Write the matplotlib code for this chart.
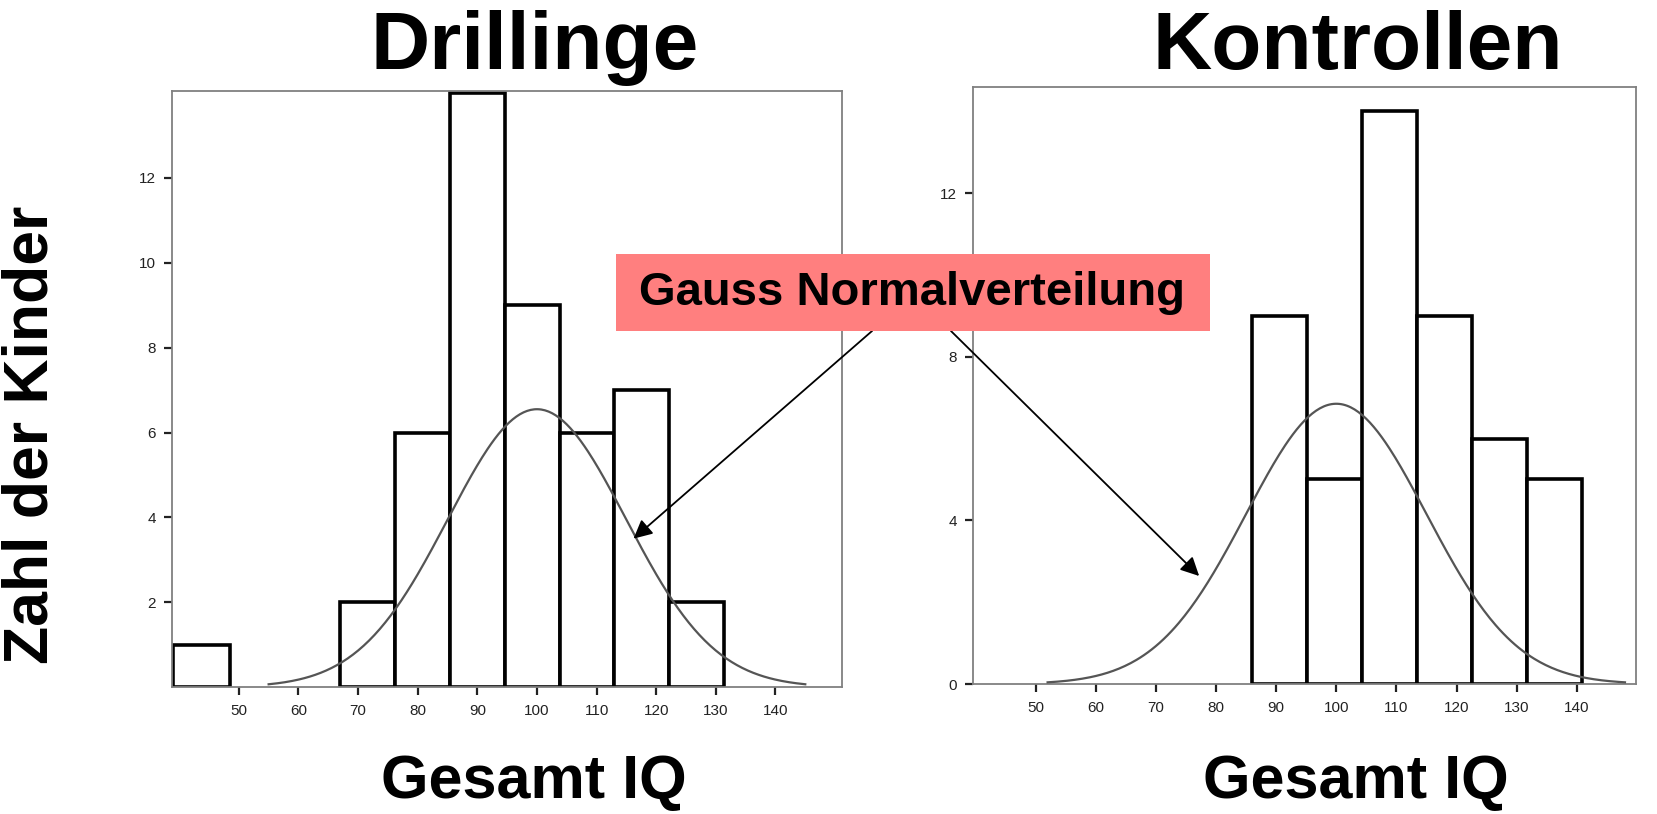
import numpy as np
import matplotlib
matplotlib.use("Agg")
import matplotlib.pyplot as plt
from matplotlib.patches import Rectangle

plt.rcParams['font.family'] = ['Liberation Sans', 'DejaVu Sans']

# histogram data
drill_edges = [39.0, 48.6, 57.8, 67.0, 76.2, 85.4, 94.6, 103.8, 113.0, 122.2, 131.4]
drill_counts = [1, 0, 0, 2, 6, 14, 9, 6, 7, 2]
kontr_edges = [86.0, 95.15, 104.3, 113.45, 122.6, 131.75, 140.9]
kontr_counts = [9, 5, 14, 9, 6, 5]

# fitted normal curves (mean, sd, peak height)
drill_fit = (100.0, 14.9, 6.55)
kontr_fit = (100.0, 15.0, 6.85)

xticks = [50, 60, 70, 80, 90, 100, 110, 120, 130, 140]
drill_yticks = [2, 4, 6, 8, 10, 12]
kontr_yticks = [0, 4, 8, 12]


def draw_hist(ax, edges, counts, fit, xlim, ylim, yticks, curve_range):
    edges = np.asarray(edges)
    counts = np.asarray(counts)
    keep = counts > 0
    ax.bar(edges[:-1][keep], counts[keep], width=np.diff(edges)[keep], align='edge',
           facecolor='white', edgecolor='black', linewidth=2.6, zorder=2)
    mu, sd, peak = fit
    xs = np.linspace(curve_range[0], curve_range[1], 300)
    ax.plot(xs, peak * np.exp(-0.5 * ((xs - mu) / sd) ** 2), color='#555555',
            linewidth=1.6, zorder=3)
    ax.set_xlim(*xlim)
    ax.set_ylim(*ylim)
    ax.set_xticks(xticks)
    ax.set_yticks(yticks)
    ax.tick_params(direction='out', length=6, width=1.6, labelsize=11,
                   colors='#222222', pad=6)
    for s in ax.spines.values():
        s.set_color('#808080')
        s.set_linewidth(1.3)


fig = plt.figure(figsize=(16.57, 8.14), dpi=100)
ax1 = fig.add_axes([0.1040, 0.1558, 0.4043, 0.7325])
ax2 = fig.add_axes([0.5874, 0.1597, 0.3998, 0.7338])

draw_hist(ax1, drill_edges, drill_counts, drill_fit, (38.85, 151.2), (0, 14.05),
          drill_yticks, (55, 145))
draw_hist(ax2, kontr_edges, kontr_counts, kontr_fit, (39.65, 149.8), (0, 14.6),
          kontr_yticks, (52, 148))

fig.text(0.3227, 0.915, 'Drillinge', ha='center', va='baseline',
         fontsize=59, fontweight='bold')
fig.text(0.8195, 0.915, 'Kontrollen', ha='center', va='baseline',
         fontsize=59, fontweight='bold')
fig.text(0.322, 0.02, 'Gesamt IQ', ha='center', va='baseline',
         fontsize=44, fontweight='bold')
fig.text(0.818, 0.02, 'Gesamt IQ', ha='center', va='baseline',
         fontsize=44, fontweight='bold')
fig.text(0.019, 0.4656, 'Zahl der Kinder', ha='center', va='center',
         rotation=90, fontsize=45, fontweight='bold')

# annotation box with arrows
fig.add_artist(Rectangle((0.3718, 0.5934), 0.3584, 0.0946, transform=fig.transFigure,
                         facecolor='#ff7f7f', edgecolor='none', zorder=5))
fig.text(0.5506, 0.640, 'Gauss Normalverteilung', ha='center', va='center',
         fontsize=34, fontweight='bold', zorder=6)

arrow = dict(arrowstyle='-|>', color='black', lw=1.3, mutation_scale=28,
             shrinkA=0, shrinkB=0)
ax1.annotate('', xy=(116.2, 3.5), xycoords='data',
             xytext=(0.5263, 0.5934), textcoords='figure fraction',
             arrowprops=arrow, annotation_clip=False)
ax2.annotate('', xy=(77.2, 2.64), xycoords='data',
             xytext=(0.5739, 0.5934), textcoords='figure fraction',
             arrowprops=arrow, annotation_clip=False)

fig.savefig('out.png', dpi=100)
